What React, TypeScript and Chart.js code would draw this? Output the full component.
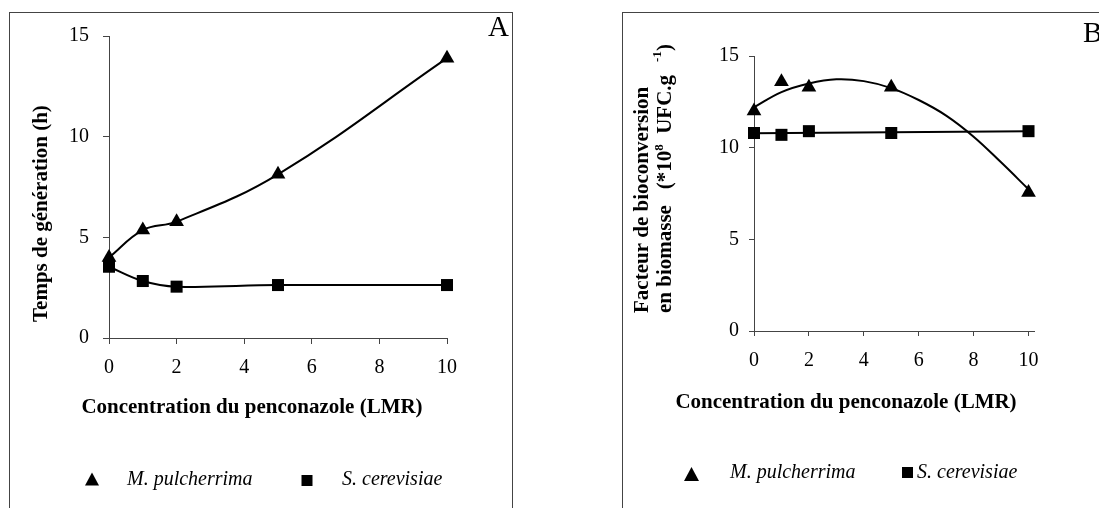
import React, { useEffect, useRef } from 'react';
import { Chart, registerables } from 'chart.js';

Chart.register(...registerables);

// ---------- data ----------
const concentrations = [0, 1, 2, 5, 10];
const genTimeMPulcherrima = [4.0, 5.36, 5.78, 8.13, 13.9];
const genTimeSCerevisiae = [3.54, 2.83, 2.55, 2.63, 2.63];
const bioconvMPulcherrima = [12.0, 13.6, 13.3, 13.3, 7.55];
const bioconvSCerevisiae = [10.8, 10.7, 10.9, 10.8, 10.9];
const trendConcentrations = [0, 1, 2, 3, 4, 5, 6, 7, 8, 9, 10];
const trendMPulcherrima = [12.2, 13.03, 13.5, 13.73, 13.63, 13.25, 12.6, 11.75, 10.6, 9.2, 7.73];
const trendSCerevisiaeX = [0, 10];
const trendSCerevisiae = [10.78, 10.89];
const xTickValues = [0, 2, 4, 6, 8, 10];
const yTickValues = [0, 5, 10, 15];

const SERIF = '"Liberation Serif", "Times New Roman", serif';

const toXY = (xs: number[], ys: number[]) => xs.map((x, i) => ({ x, y: ys[i] }));

type Seg = { text: string; font: string; dy?: number };
type TextSpec = { x: number; y: number; rotate?: number; align?: CanvasTextAlign; font?: string; text?: string; segments?: Seg[] };
type LegendSpec = { marker: 'triangle' | 'square'; cx: number; cy: number; w: number; h: number; text: string; tx: number; ty: number };

function makeDecor(texts: TextSpec[], legend: LegendSpec[]) {
  return {
    id: 'panelDecor',
    afterDraw(chart: any) {
      const ctx: CanvasRenderingContext2D = chart.ctx;
      ctx.save();
      ctx.fillStyle = '#000';
      ctx.textBaseline = 'alphabetic';
      for (const t of texts) {
        ctx.save();
        ctx.translate(t.x, t.y);
        if (t.rotate) ctx.rotate(t.rotate);
        if (t.segments) {
          ctx.textAlign = 'left';
          let cx = 0;
          for (const s of t.segments) {
            ctx.font = s.font;
            ctx.fillText(s.text, cx, s.dy || 0);
            cx += ctx.measureText(s.text).width;
          }
        } else {
          ctx.font = t.font || '';
          ctx.textAlign = t.align || 'left';
          ctx.fillText(t.text || '', 0, 0);
        }
        ctx.restore();
      }
      for (const l of legend) {
        ctx.beginPath();
        if (l.marker === 'triangle') {
          ctx.moveTo(l.cx, l.cy - l.h / 2);
          ctx.lineTo(l.cx + l.w / 2, l.cy + l.h / 2);
          ctx.lineTo(l.cx - l.w / 2, l.cy + l.h / 2);
          ctx.closePath();
        } else {
          ctx.rect(l.cx - l.w / 2, l.cy - l.h / 2, l.w, l.h);
        }
        ctx.fill();
        ctx.font = `italic 20px ${SERIF}`;
        ctx.textAlign = 'left';
        ctx.fillText(l.text, l.tx, l.ty);
      }
      ctx.restore();
    },
  };
}

function axisCommon(tickLen: number, pad: number, values: number[]) {
  return {
    type: 'linear' as const,
    afterBuildTicks: (s: any) => {
      s.ticks = values.map((v) => ({ value: v }));
    },
    ticks: {
      color: '#000',
      padding: pad,
      font: { family: SERIF, size: 20 },
      autoSkip: false,
      maxRotation: 0,
    },
    grid: { drawOnChartArea: false, drawTicks: true, tickLength: tickLen, color: '#444', lineWidth: 1 },
    border: { display: true, color: '#444', width: 1 },
  };
}

const markerStyle = (style: string, r: number) => ({
  pointStyle: style,
  pointRadius: r,
  pointHoverRadius: r,
  pointBackgroundColor: '#000',
  pointBorderColor: '#000',
  pointBorderWidth: 0,
  borderColor: '#000',
  backgroundColor: '#000',
  clip: false as const,
});

export default function App() {
  const refA = useRef<HTMLCanvasElement>(null);
  const refB = useRef<HTMLCanvasElement>(null);

  useEffect(() => {
    if (!refA.current || !refB.current) return;

    const bold21 = `bold 21px ${SERIF}`;

    const chartA = new Chart(refA.current, {
      type: 'scatter',
      data: {
        datasets: [
          {
            label: 'M. pulcherrima',
            data: toXY(concentrations, genTimeMPulcherrima),
            showLine: true,
            tension: 0.4,
            borderWidth: 2,
            ...markerStyle('triangle', 8.5),
          } as any,
          {
            label: 'S. cerevisiae',
            data: toXY(concentrations, genTimeSCerevisiae),
            showLine: true,
            tension: 0.4,
            borderWidth: 2,
            ...markerStyle('rect', 8.5),
          } as any,
        ],
      },
      options: {
        responsive: false,
        maintainAspectRatio: false,
        animation: false,
        events: [],
        layout: { padding: { left: 0, top: 36, right: 113, bottom: 0 } },
        plugins: { legend: { display: false }, tooltip: { enabled: false } },
        scales: {
          x: {
            ...axisCommon(6, 12, xTickValues),
            min: 0,
            max: 10,
            afterFit: (s: any) => {
              s.height = 170;
            },
          },
          y: {
            ...axisCommon(6, 14, yTickValues),
            min: 0,
            max: 15,
            afterFit: (s: any) => {
              s.width = 109;
            },
          },
        } as any,
      },
      plugins: [
        makeDecor(
          [
            { x: 252, y: 413, align: 'center', font: bold21, text: 'Concentration du penconazole (LMR)' },
            { x: 47, y: 322, rotate: -Math.PI / 2, align: 'left', font: bold21, text: 'Temps de génération (h)' },
            { x: 488, y: 36, align: 'left', font: `29px ${SERIF}`, text: 'A' },
          ],
          [
            { marker: 'triangle', cx: 92, cy: 479, w: 14, h: 13, text: 'M. pulcherrima', tx: 127, ty: 485 },
            { marker: 'square', cx: 307, cy: 480.5, w: 11, h: 11, text: 'S. cerevisiae', tx: 342, ty: 485 },
          ]
        ),
      ],
    });

    const chartB = new Chart(refB.current, {
      type: 'scatter',
      data: {
        datasets: [
          {
            label: 'M. pulcherrima',
            data: toXY(concentrations, bioconvMPulcherrima),
            showLine: false,
            ...markerStyle('triangle', 8.5),
          } as any,
          {
            label: 'S. cerevisiae',
            data: toXY(concentrations, bioconvSCerevisiae),
            showLine: false,
            ...markerStyle('rect', 8.5),
          } as any,
          {
            label: 'M. pulcherrima trend',
            data: toXY(trendConcentrations, trendMPulcherrima),
            showLine: true,
            tension: 0.4,
            borderWidth: 2,
            borderColor: '#000',
            pointRadius: 0,
            pointHoverRadius: 0,
            clip: false,
          } as any,
          {
            label: 'S. cerevisiae trend',
            data: toXY(trendSCerevisiaeX, trendSCerevisiae),
            showLine: true,
            tension: 0,
            borderWidth: 2,
            borderColor: '#000',
            pointRadius: 0,
            pointHoverRadius: 0,
            clip: false,
          } as any,
        ],
      },
      options: {
        responsive: false,
        maintainAspectRatio: false,
        animation: false,
        events: [],
        layout: { padding: { left: 0, top: 56, right: 65, bottom: 0 } },
        plugins: { legend: { display: false }, tooltip: { enabled: false } },
        scales: {
          x: {
            ...axisCommon(5, 13, xTickValues),
            min: 0,
            max: 10.2,
            afterFit: (s: any) => {
              s.height = 177;
            },
          },
          y: {
            ...axisCommon(5, 10, yTickValues),
            min: 0,
            max: 15,
            afterFit: (s: any) => {
              s.width = 194;
            },
          },
        } as any,
      },
      plugins: [
        makeDecor(
          [
            { x: 286, y: 408, align: 'center', font: bold21, text: 'Concentration du penconazole (LMR)' },
            { x: 88, y: 313, rotate: -Math.PI / 2, align: 'left', font: bold21, text: 'Facteur de bioconversion' },
            {
              x: 111,
              y: 313,
              rotate: -Math.PI / 2,
              segments: [
                { text: 'en biomasse   (*10', font: bold21 },
                { text: '8', font: `bold 13px ${SERIF}`, dy: -8 },
                { text: '  UFC.g', font: bold21 },
                { text: '    -1', font: `bold 13px ${SERIF}`, dy: -10 },
                { text: ')', font: bold21 },
              ],
            },
            { x: 523, y: 42, align: 'left', font: `29px ${SERIF}`, text: 'B' },
          ],
          [
            { marker: 'triangle', cx: 131.5, cy: 474, w: 15, h: 14, text: 'M. pulcherrima', tx: 170, ty: 478 },
            { marker: 'square', cx: 347.5, cy: 472.5, w: 11, h: 11, text: 'S. cerevisiae', tx: 357, ty: 478 },
          ]
        ),
      ],
    });

    return () => {
      chartA.destroy();
      chartB.destroy();
    };
  }, []);

  return (
    <div style={{ position: 'absolute', left: 0, top: 0, width: 1099, height: 508, overflow: 'hidden', background: '#fff' }}>
      <div
        style={{
          position: 'absolute',
          left: 9,
          top: 12,
          width: 504,
          height: 520,
          border: '1px solid #444',
          boxSizing: 'border-box',
        }}
      />
      <div
        style={{
          position: 'absolute',
          left: 622,
          top: 12,
          width: 540,
          height: 520,
          borderTop: '1px solid #444',
          borderLeft: '1px solid #444',
          boxSizing: 'border-box',
        }}
      />
      <canvas ref={refA} width={560} height={508} style={{ position: 'absolute', left: 0, top: 0 }} />
      <canvas ref={refB} width={539} height={508} style={{ position: 'absolute', left: 560, top: 0 }} />
    </div>
  );
}
